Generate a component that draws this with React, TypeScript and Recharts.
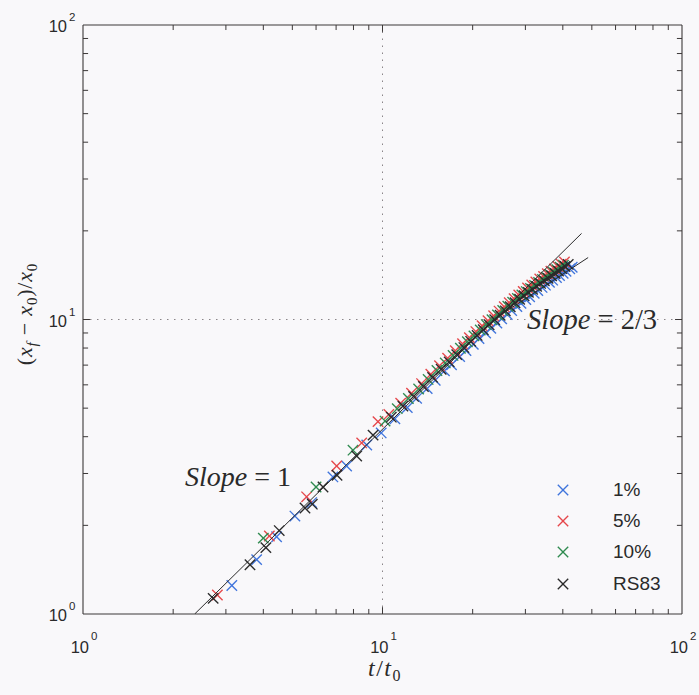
import React from 'react';
import { ScatterChart, Scatter, XAxis, YAxis, ReferenceLine, Legend, Customized } from 'recharts';

// ---------- data ----------
const axisTicks = [1, 2, 3, 4, 5, 6, 7, 8, 9, 10, 20, 30, 40, 50, 60, 70, 80, 90, 100];
const innerTicks = [2, 3, 4, 5, 6, 7, 8, 9, 10, 20, 30, 40, 50, 60, 70, 80, 90];
const decadeExponent: Record<number, string> = { 1: '0', 10: '1', 100: '2' };

const seriesNames = ['1%', '5%', '10%', 'RS83'];
const seriesColors = ['#3f74dc', '#e5464a', '#2f8a4f', '#2a2a2a'];

const onePct: [number, number][] = [
  [3.14, 1.25], [3.8, 1.53], [4.43, 1.83], [5.1, 2.15], [5.8, 2.39], [6.83, 2.92], [7.59, 3.18], [8.86, 3.75],
  [9.9, 4.12], [11.0, 4.6], [12.1, 5.02], [13.0, 5.4], [14.1, 5.83], [15.0, 6.22], [16.1, 6.7], [17.0, 7.02],
  [18.1, 7.48], [19.0, 7.84], [20.1, 8.24], [21.0, 8.62], [22.1, 9.0], [23.0, 9.33], [24.1, 9.72], [25.0, 10.05],
  [26.1, 10.4], [27.0, 10.72], [28.1, 11.06], [29.0, 11.35], [30.1, 11.68], [31.0, 11.95], [32.1, 12.28], [33.0, 12.55],
  [34.1, 12.85], [35.0, 13.08], [36.1, 13.38], [37.0, 13.6], [38.1, 13.88], [39.0, 14.1], [40.1, 14.36], [41.0, 14.58],
  [42.2, 14.86], [43.0, 15.05],
];

const fivePct: [number, number][] = [
  [2.81, 1.16], [4.19, 1.84], [5.58, 2.5], [7.03, 3.18], [8.52, 3.81], [9.66, 4.5],
  [10.5, 4.76], [11.5, 5.2], [12.5, 5.62], [13.5, 6.06], [14.5, 6.52], [15.5, 6.97], [16.5, 7.39], [17.5, 7.83],
  [18.5, 8.27], [19.5, 8.68], [20.5, 9.1], [21.5, 9.52], [22.5, 9.9], [23.5, 10.3], [24.5, 10.68], [25.5, 11.05],
  [26.5, 11.41], [27.5, 11.77], [28.5, 12.12], [29.5, 12.45], [30.5, 12.79], [31.5, 13.1], [32.5, 13.42], [33.5, 13.73],
  [34.5, 14.01], [35.5, 14.3], [36.5, 14.58], [37.5, 14.84], [38.5, 15.13], [39.5, 15.41], [40.5, 15.67],
];

const tenPct: [number, number][] = [
  [4.0, 1.81], [6.0, 2.7], [7.97, 3.6],
  [10.2, 4.52], [11.2, 4.98], [12.2, 5.39], [13.2, 5.81], [14.2, 6.26], [15.2, 6.71], [16.2, 7.12], [17.2, 7.55],
  [18.2, 7.99], [19.2, 8.4], [20.2, 8.8], [21.2, 9.21], [22.2, 9.61], [23.2, 9.98], [24.2, 10.37], [25.2, 10.73],
  [26.2, 11.09], [27.2, 11.44], [28.2, 11.79], [29.2, 12.11], [30.2, 12.44], [31.2, 12.75], [32.2, 13.06], [33.2, 13.36],
  [34.2, 13.67], [35.2, 13.93], [36.2, 14.23], [37.2, 14.48], [38.2, 14.75], [39.2, 15.05], [40.2, 15.3],
];

const rs83: [number, number][] = [
  [2.72, 1.13], [3.61, 1.47], [4.08, 1.68], [4.52, 1.92], [5.51, 2.29], [5.83, 2.36], [6.33, 2.7], [7.05, 2.96],
  [8.2, 3.44], [9.3, 4.05],
  [10.7, 4.66], [11.7, 5.08], [12.7, 5.48], [13.7, 5.92], [14.7, 6.36], [15.7, 6.78], [16.7, 7.18], [17.7, 7.6],
  [18.7, 8.03], [19.7, 8.43], [20.7, 8.83], [21.7, 9.23], [22.7, 9.6], [23.7, 9.98], [24.7, 10.34], [25.7, 10.7],
  [26.7, 11.05], [27.7, 11.4], [28.7, 11.72], [29.7, 12.04], [30.7, 12.36], [31.7, 12.66], [32.7, 12.96], [33.7, 13.26],
  [34.7, 13.53], [35.7, 13.8], [36.7, 14.08], [37.7, 14.33], [38.7, 14.6], [39.7, 14.88], [40.7, 15.13], [41.7, 15.38],
];

const slopeOneLine: [number, number][] = [[2.36, 1.0], [46.2, 19.6]];
const slopeTwoThirdsLine: [number, number][] = [[23.9, 10.11], [48.6, 16.23]];

const allSeries = [onePct, fivePct, tenPct, rs83];

const toPoints = (arr: [number, number][]) => arr.map(([x, y]) => ({ x, y }));

// ---------- styles ----------
const AXIS = '#3c3838';
const TEXT = '#2a2a2a';
const SANS = '"Liberation Sans", Arial, Helvetica, sans-serif';
const SERIF = '"Liberation Serif", "Times New Roman", serif';
const MINOR_TICK = 1.04; // tick length as a factor on the log axis (~5px)
const MAJOR_TICK = 1.055; // ~7px

const Cross = ({ cx, cy, color, r = 5.2 }: any) => {
  if (cx == null || cy == null) return <g />;
  return (
    <g stroke={color} strokeWidth={1.35} strokeLinecap="butt">
      <line x1={cx - r} y1={cy - r} x2={cx + r} y2={cy + r} />
      <line x1={cx - r} y1={cy + r} x2={cx + r} y2={cy - r} />
    </g>
  );
};

const BottomTick = ({ x, y, payload }: any) => {
  const exp = decadeExponent[payload.value];
  if (exp === undefined) return <g />;
  return (
    <g fill={TEXT} fontFamily={SANS}>
      <text x={x + 6} y={y + 39} fontSize={16.5} textAnchor="end">10</text>
      <text x={x + 8} y={y + 26} fontSize={11.5} textAnchor="start">{exp}</text>
    </g>
  );
};

const LeftTick = ({ x, y, payload }: any) => {
  const exp = decadeExponent[payload.value];
  if (exp === undefined) return <g />;
  return (
    <g fill={TEXT} fontFamily={SANS}>
      <text x={x - 16} y={y + 7} fontSize={16.5} textAnchor="end">10</text>
      <text x={x - 14} y={y - 4} fontSize={11.5} textAnchor="start">{exp}</text>
    </g>
  );
};

const LegendContent = ({ payload }: any) => {
  const present = new Set((payload || []).map((p: any) => p.value));
  const names = seriesNames.filter((n) => present.has(n));
  return (
    <div style={{ width: 150 }}>
      {names.map((name) => {
        const idx = seriesNames.indexOf(name);
        return (
          <div key={name} style={{ height: 31.3, display: 'flex', alignItems: 'center' }}>
            <svg width={22} height={20} style={{ display: 'block' }}>
              <Cross cx={11} cy={10} color={seriesColors[idx]} />
            </svg>
            <span style={{ marginLeft: 39, fontFamily: SANS, fontSize: 19, color: TEXT, lineHeight: '20px' }}>
              {name}
            </span>
          </div>
        );
      })}
    </div>
  );
};

const Annotations = () => (
  <g fill={TEXT} fontFamily={SERIF}>
    <text x={177} y={478} fontSize={28}>
      <tspan fontStyle="italic">Slope</tspan>
      <tspan> = 1</tspan>
    </text>
    <text x={519} y={321} fontSize={28.5}>
      <tspan fontStyle="italic">Slope</tspan>
      <tspan> = 2/3</tspan>
    </text>
    <text x={377} y={668} fontSize={24} textAnchor="middle" letterSpacing={1.5}>
      <tspan fontStyle="italic">t</tspan>
      <tspan>/</tspan>
      <tspan fontStyle="italic">t</tspan>
      <tspan fontSize={16} dy={5}>0</tspan>
    </text>
    <text x={24} y={306} fontSize={22} textAnchor="middle" transform="rotate(-90, 24, 306)" letterSpacing={0.8}>
      <tspan>(</tspan>
      <tspan fontStyle="italic">x</tspan>
      <tspan fontStyle="italic" fontSize={15} dy={5}>f</tspan>
      <tspan dy={-5}> − </tspan>
      <tspan fontStyle="italic">x</tspan>
      <tspan fontSize={15} dy={5}>0</tspan>
      <tspan dy={-5}>)/</tspan>
      <tspan fontStyle="italic">x</tspan>
      <tspan fontSize={15} dy={5}>0</tspan>
    </text>
  </g>
);

const tickSegments = innerTicks.flatMap((v) => {
  const f = decadeExponent[v] !== undefined ? MAJOR_TICK : MINOR_TICK;
  return [
    { key: `b${v}`, segment: [{ x: v, y: 1 }, { x: v, y: f }] },
    { key: `t${v}`, segment: [{ x: v, y: 100 }, { x: v, y: 100 / f }] },
    { key: `l${v}`, segment: [{ x: 1, y: v }, { x: f, y: v }] },
    { key: `r${v}`, segment: [{ x: 100, y: v }, { x: 100 / f, y: v }] },
  ];
});

export default function App() {
  return (
    <div style={{ position: 'fixed', left: 0, top: 0, width: 699, height: 695, background: '#f9f8fa' }}>
      <div style={{ position: 'absolute', left: 8, top: 8 }}>
        <ScatterChart width={691} height={687} margin={{ top: 17, right: 17, bottom: 0, left: 0 }}>
          <XAxis
            dataKey="x"
            type="number"
            scale="log"
            domain={[1, 100]}
            allowDataOverflow
            ticks={axisTicks}
            interval={0}
            height={81}
            tickSize={0}
            tickMargin={0}
            tickLine={false}
            axisLine={{ stroke: AXIS, strokeWidth: 1.1 }}
            tick={<BottomTick />}
          />
          <YAxis
            dataKey="y"
            type="number"
            scale="log"
            domain={[1, 100]}
            allowDataOverflow
            ticks={axisTicks}
            interval={0}
            width={75}
            tickSize={0}
            tickMargin={0}
            tickLine={false}
            axisLine={{ stroke: AXIS, strokeWidth: 1.1 }}
            tick={<LeftTick />}
          />
          <ReferenceLine x={10} stroke="#8a8588" strokeDasharray="1.5 5.5" />
          <ReferenceLine y={10} stroke="#8a8588" strokeDasharray="1.5 5.5" />
          <ReferenceLine x={100} stroke={AXIS} strokeWidth={1.1} />
          <ReferenceLine y={100} stroke={AXIS} strokeWidth={1.1} />
          {tickSegments.map((t) => (
            <ReferenceLine key={t.key} segment={t.segment} stroke={AXIS} strokeWidth={1} ifOverflow="visible" />
          ))}
          {allSeries.map((s, i) => (
            <Scatter
              key={seriesNames[i]}
              name={seriesNames[i]}
              data={toPoints(s)}
              fill={seriesColors[i]}
              isAnimationActive={false}
              shape={(p: any) => <Cross cx={p.cx} cy={p.cy} color={seriesColors[i]} />}
            />
          ))}
          <Scatter
            name="slope1"
            data={toPoints(slopeOneLine)}
            line={{ stroke: '#2a2a2a', strokeWidth: 1 }}
            shape={() => <g />}
            legendType="none"
            isAnimationActive={false}
          />
          <Scatter
            name="slope23"
            data={toPoints(slopeTwoThirdsLine)}
            line={{ stroke: '#2a2a2a', strokeWidth: 1 }}
            shape={() => <g />}
            legendType="none"
            isAnimationActive={false}
          />
          <Legend
            layout="vertical"
            align="center"
            verticalAlign="middle"
            content={<LegendContent />}
            wrapperStyle={{ position: 'absolute', left: 544, top: 466, width: 150 }}
          />
          <Customized component={Annotations} />
        </ScatterChart>
      </div>
    </div>
  );
}
